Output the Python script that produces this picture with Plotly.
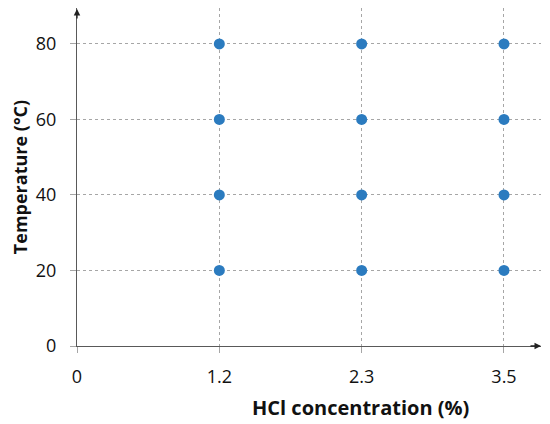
import plotly.graph_objects as go

# --- data ---
conc_labels = ["0", "1.2", "2.3", "3.5"]
hcl_conc = ["1.2", "1.2", "1.2", "1.2",
            "2.3", "2.3", "2.3", "2.3",
            "3.5", "3.5", "3.5", "3.5"]
temperature = [20, 40, 60, 80,
               20, 40, 60, 80,
               20, 40, 60, 80]
temp_ticks = [0, 20, 40, 60, 80]

AXIS_COLOR = "#595959"
GRID_COLOR = "#a6a6a6"
FONT = "Open Sans"

fig = go.Figure()
fig.add_trace(go.Scatter(
    x=hcl_conc, y=temperature, mode="markers",
    marker=dict(color="#2B7BBF", size=11),
    showlegend=False,
))

fig.update_xaxes(
    type="category", categoryorder="array", categoryarray=conc_labels,
    range=[0, 3.26], automargin=False,
    showline=True, linecolor=AXIS_COLOR, linewidth=1.3,
    ticks="outside", ticklen=6, tickcolor=GRID_COLOR,
    ticklabelstandoff=8,
    showgrid=True, gridcolor=GRID_COLOR, griddash="3px,3px", gridwidth=1,
    tickfont=dict(family=FONT, size=18, color="#111"),
    zeroline=False,
)
fig.update_yaxes(
    range=[0, 89.5], tickvals=temp_ticks, automargin=False,
    showline=True, linecolor=AXIS_COLOR, linewidth=1.3,
    ticks="outside", ticklen=6, tickcolor=GRID_COLOR,
    ticklabelstandoff=10,
    showgrid=True, gridcolor=GRID_COLOR, griddash="3px,3px", gridwidth=1,
    tickfont=dict(family=FONT, size=18, color="#111"),
    title=dict(text="<b>Temperature (°C)</b>",
               font=dict(family=FONT, size=18, color="#111"), standoff=4),
    zeroline=False,
)

# x title sits right of centre in the original, so place it by hand
fig.add_annotation(xref="paper", yref="paper", x=0.61, y=0, yshift=-61,
                   xanchor="center", yanchor="middle", showarrow=False,
                   text="<b>HCl concentration (%)</b>",
                   font=dict(family=FONT, size=20, color="#111"))

# arrowheads at the ends of both axes
fig.add_annotation(xref="paper", yref="paper", x=0, y=1.0, ax=0, ay=12,
                   text="", showarrow=True, arrowhead=2, arrowsize=1,
                   arrowwidth=1.3, arrowcolor="#222")
fig.add_annotation(xref="paper", yref="paper", x=1.0, y=0, ax=-12, ay=0,
                   text="", showarrow=True, arrowhead=2, arrowsize=1,
                   arrowwidth=1.3, arrowcolor="#222")

# the page body adds an 8px offset, so the figure is 8px smaller
fig.update_layout(
    width=542, height=416,
    margin=dict(l=69, r=9, t=0, b=78),
    plot_bgcolor="white", paper_bgcolor="white",
    font=dict(family=FONT),
)

fig.write_html("out.html")
